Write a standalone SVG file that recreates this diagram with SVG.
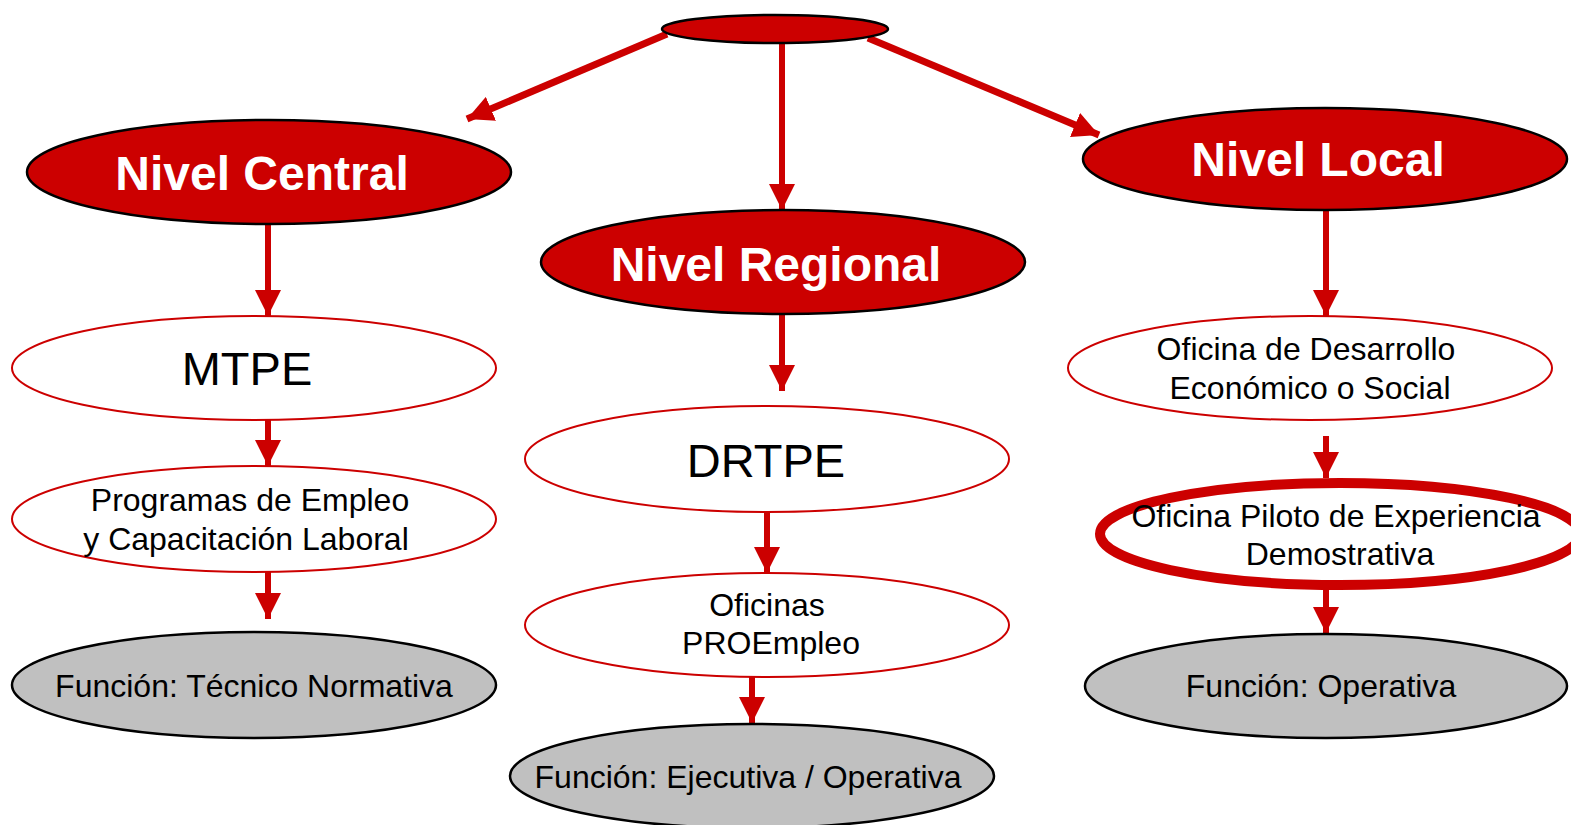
<svg xmlns="http://www.w3.org/2000/svg" width="1571" height="825" viewBox="0 0 1571 825">
<defs>
<marker id="ah" markerUnits="userSpaceOnUse" markerWidth="26" markerHeight="26" viewBox="0 0 26 26" refX="26" refY="13" orient="auto">
<path d="M0,0 L26,13 L0,26 z" fill="#cc0000"/>
</marker>
</defs>
<style>
.lvl{fill:#cc0000;stroke:#000;stroke-width:2.5}
.org{fill:#fff;stroke:#cc0000;stroke-width:2}
.fn{fill:#c0c0c0;stroke:#000;stroke-width:2.5}
.big{font-family:"Liberation Sans",Arial,sans-serif;font-weight:bold;font-size:48px;fill:#fff;text-anchor:middle}
.mid{font-family:"Liberation Sans",Arial,sans-serif;font-size:47px;fill:#000;text-anchor:middle}
.sm{font-family:"Liberation Sans",Arial,sans-serif;font-size:32px;fill:#000;text-anchor:middle}
.c{stroke:#cc0000;stroke-width:6;fill:none;marker-end:url(#ah)}
.cd{stroke:#cc0000;stroke-width:7;fill:none;marker-end:url(#ah)}
</style>
<g id="connectors">
<line class="cd" x1="667" y1="34" x2="467" y2="119"/>
<line class="c" x1="782" y1="44" x2="782" y2="210"/>
<line class="cd" x1="868" y1="38" x2="1099" y2="135"/>
<line class="c" x1="268" y1="224" x2="268" y2="316"/>
<line class="c" x1="268" y1="420" x2="268" y2="466"/>
<line class="c" x1="268" y1="572" x2="268" y2="619"/>
<line class="c" x1="782" y1="315" x2="782" y2="391"/>
<line class="c" x1="767" y1="512" x2="767" y2="573"/>
<line class="c" x1="752" y1="677" x2="752" y2="723"/>
<line class="c" x1="1326" y1="210" x2="1326" y2="316"/>
<line class="c" x1="1326" y1="436" x2="1326" y2="478"/>
<line class="c" x1="1326" y1="590" x2="1326" y2="633"/>
</g>
<g id="root"><ellipse class="lvl" cx="775" cy="29" rx="113" ry="14"/></g>
<g id="nivel-central"><ellipse class="lvl" cx="269" cy="172" rx="242" ry="52"/><text class="big" x="262" y="190">Nivel Central</text></g>
<g id="nivel-regional"><ellipse class="lvl" cx="783" cy="262" rx="242" ry="52"/><text class="big" x="776" y="281">Nivel Regional</text></g>
<g id="nivel-local"><ellipse class="lvl" cx="1325" cy="159" rx="242" ry="51"/><text class="big" x="1318" y="176">Nivel Local</text></g>
<g id="mtpe"><ellipse class="org" cx="254" cy="368" rx="242" ry="52"/><text class="mid" x="247" y="385">MTPE</text></g>
<g id="programas"><ellipse class="org" cx="254" cy="519" rx="242" ry="53"/><text class="sm" x="250" y="511">Programas de Empleo</text><text class="sm" x="246" y="550">y Capacitación Laboral</text></g>
<g id="fn-central"><ellipse class="fn" cx="254" cy="685" rx="242" ry="53"/><text class="sm" x="254" y="697">Función: Técnico Normativa</text></g>
<g id="drtpe"><ellipse class="org" cx="767" cy="459" rx="242" ry="53"/><text class="mid" x="766" y="477">DRTPE</text></g>
<g id="oficinas"><ellipse class="org" cx="767" cy="625" rx="242" ry="52"/><text class="sm" x="767" y="616">Oficinas</text><text class="sm" x="771" y="654">PROEmpleo</text></g>
<g id="fn-regional"><ellipse class="fn" cx="752" cy="776" rx="242" ry="52"/><text class="sm" x="748" y="788">Función: Ejecutiva / Operativa</text></g>
<g id="oficina-desarrollo"><ellipse class="org" cx="1310" cy="368" rx="242" ry="52"/><text class="sm" x="1306" y="360">Oficina de Desarrollo</text><text class="sm" x="1310" y="399">Económico o Social</text></g>
<g id="oficina-piloto"><ellipse cx="1340" cy="534" rx="240" ry="51" fill="#fff" stroke="#cc0000" stroke-width="10"/><text class="sm" x="1336" y="527">Oficina Piloto de Experiencia</text><text class="sm" x="1340" y="565">Demostrativa</text></g>
<g id="fn-local"><ellipse class="fn" cx="1326" cy="686" rx="241" ry="52"/><text class="sm" x="1321" y="697">Función: Operativa</text></g>
</svg>
